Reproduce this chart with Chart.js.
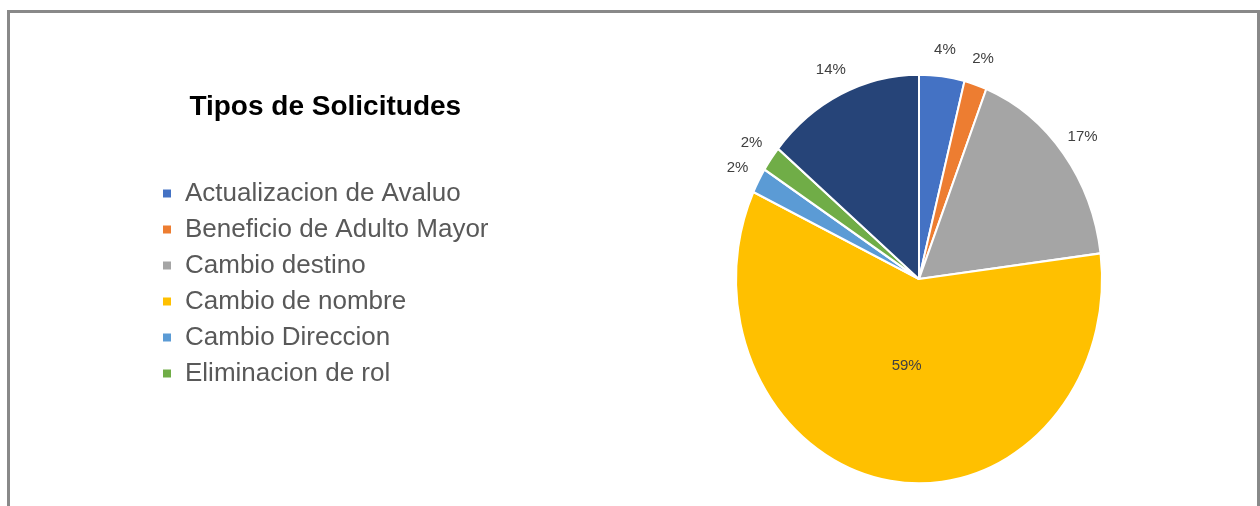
<!DOCTYPE html>
<html>
<head>
<meta charset="utf-8">
<script src="https://cdn.jsdelivr.net/npm/chart.js@4"></script>
<style>
  html, body { margin: 0; padding: 0; background: #fff; }
  body { width: 1260px; height: 506px; overflow: hidden; position: relative; }
  #chart { position: absolute; left: 0; top: 0; display: block; }
  .frame {
    position: absolute; left: 7px; top: 10px; width: 1253px; height: 500px;
    box-sizing: border-box; border: 3px solid #898989; border-bottom: none;
    pointer-events: none;
  }
</style>
</head>
<body>
<canvas id="chart" width="1600" height="506"></canvas>
<div class="frame"></div>
<script>
const titleText = 'Tipos de Solicitudes';
const categories = ['Actualizacion de Avaluo', 'Beneficio de Adulto Mayor', 'Cambio destino',
  'Cambio de nombre', 'Cambio Direccion', 'Eliminacion de rol', 'Otros'];
const shares = [4, 2, 17, 59, 2, 2, 14];
const colors = ['#4472C4', '#ED7D31', '#A5A5A5', '#FFC000', '#5B9BD5', '#70AD47', '#264478'];
const legendCount = 6;   // the reference legend only lists the first six

const stretchY = 1.117;  // the pie in the picture is taller than wide
const pieCenterX = 919;

const ellipsePie = {
  id: 'ellipsePie',
  beforeDatasetsDraw(chart) {
    const arc = chart.getDatasetMeta(0).data[0];
    const ctx = chart.ctx;
    ctx.save();
    ctx.translate(arc.x, arc.y);
    ctx.scale(1, stretchY);
    ctx.translate(-arc.x, -arc.y);
  },
  afterDatasetsDraw(chart) {
    const ctx = chart.ctx;
    ctx.restore();
    const data = chart.data.datasets[0].data;
    const total = data.reduce((a, b) => a + b, 0);
    ctx.save();
    ctx.font = '15px "Liberation Sans", Arial, sans-serif';
    ctx.fillStyle = '#404040';
    ctx.textAlign = 'center';
    ctx.textBaseline = 'middle';
    chart.getDatasetMeta(0).data.forEach((arc, i) => {
      const p = arc.getProps(['x', 'y', 'startAngle', 'endAngle', 'outerRadius'], true);
      const mid = (p.startAngle + p.endAngle) / 2;
      const share = data[i] / total;
      const r = share > 0.3 ? p.outerRadius * 0.43 : p.outerRadius + 24;
      const x = p.x + Math.cos(mid) * r;
      const y = p.y + Math.sin(mid) * r * stretchY;
      ctx.fillText(Math.round(share * 100) + '%', x, y);
    });
    ctx.restore();
  }
};

const chart = new Chart(document.getElementById('chart'), {
  type: 'pie',
  data: {
    labels: categories,
    datasets: [{
      data: shares,
      backgroundColor: colors,
      borderColor: '#ffffff',
      borderWidth: 2
    }]
  },
  options: {
    responsive: false,
    animation: false,
    events: [],
    layout: { padding: { left: 152, top: 95, bottom: 43, right: 0 } },
    plugins: {
      tooltip: { enabled: false },
      legend: {
        position: 'left',
        align: 'start',
        title: {
          display: true,
          text: titleText,
          position: 'center',
          color: '#000000',
          font: { family: '"Liberation Sans", Arial, sans-serif', size: 28, weight: 'bold' },
          padding: { top: -2, bottom: 44 }
        },
        labels: {
          boxWidth: 10,
          boxHeight: 10,
          padding: 10,
          color: '#595959',
          font: { family: '"Liberation Sans", Arial, sans-serif', size: 26 },
          filter: (item) => item.index < legendCount
        }
      }
    }
  },
  plugins: [ellipsePie]
});

// keep the pie centred where it sits in the picture
const canvasWidth = chart.width;
chart.options.layout.padding.right = canvasWidth - (2 * pieCenterX - chart.chartArea.left);
chart.update();
</script>
</body>
</html>
